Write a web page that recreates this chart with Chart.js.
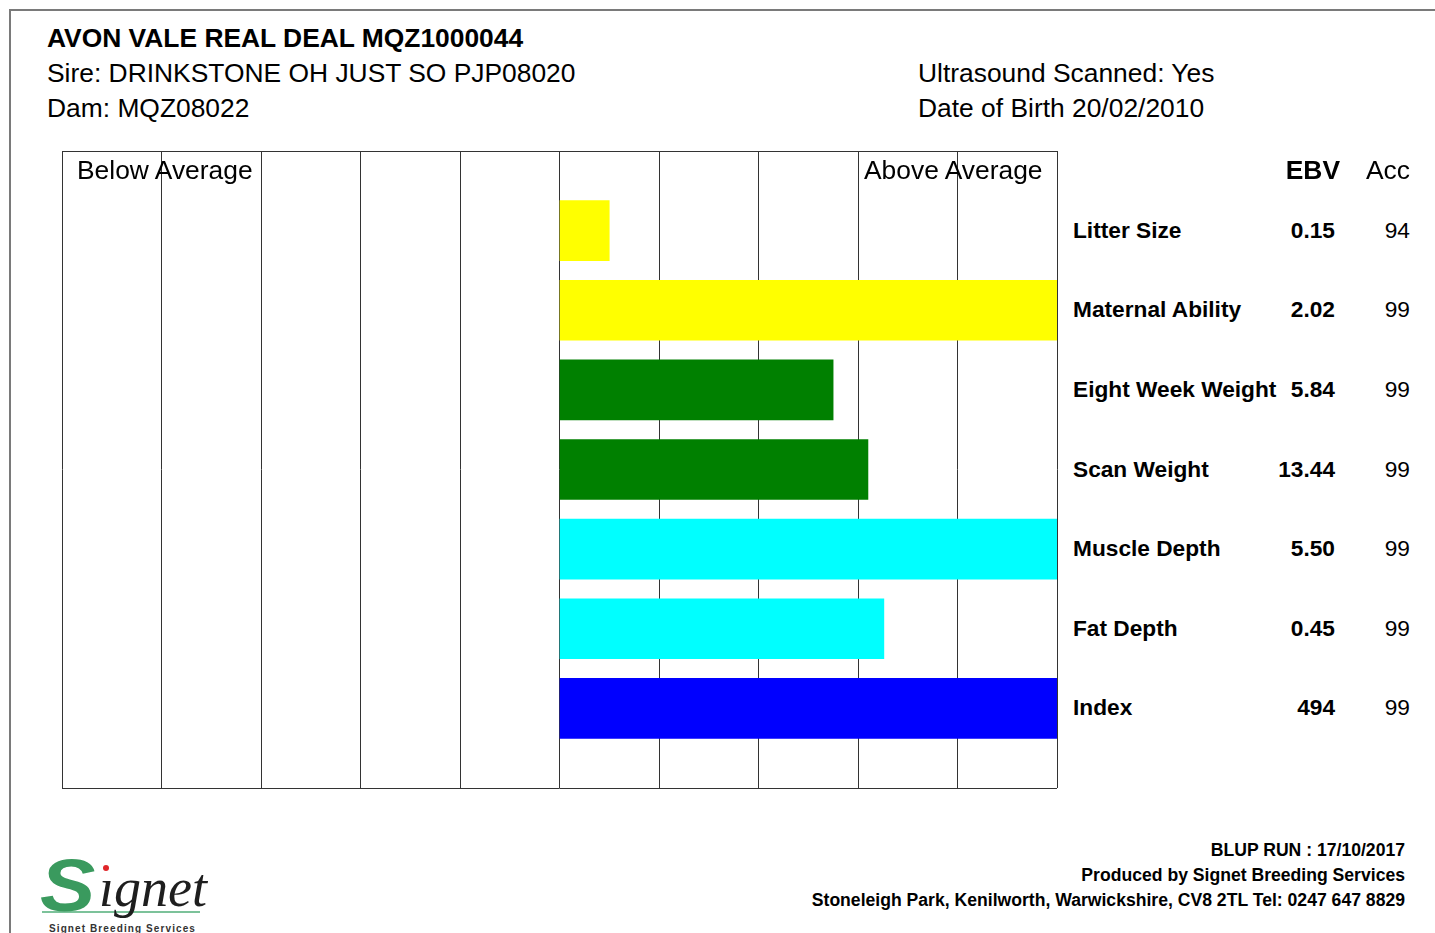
<!DOCTYPE html>
<html><head><meta charset="utf-8">
<script src="https://cdn.jsdelivr.net/npm/chart.js@4/dist/chart.umd.min.js"></script>
<style>
html,body{margin:0;padding:0;background:#fff;width:1435px;height:933px;overflow:hidden;font-family:'Liberation Sans',Arial,Helvetica,sans-serif;color:#000}
.abs{position:absolute;white-space:nowrap}
#frame{position:absolute;left:9px;top:9px;width:1440px;height:940px;border-top:2px solid #7a7a7a;border-left:2px solid #7a7a7a}
.h{font-size:26.4px;line-height:30px;height:30px}
.b{font-weight:bold}
.row{font-size:22.7px;line-height:30px;height:30px}
.foot{font-size:17.6px;font-weight:bold;line-height:20px;height:20px;right:30px;text-align:right}
#chartBox{position:absolute;left:52px;top:141px;width:1015px;height:657px}
</style>
</head><body>
<div id="frame"></div>
<div class="abs h b" style="left:47px;top:23px">AVON VALE REAL DEAL MQZ1000044</div>
<div class="abs h" style="left:47px;top:58px">Sire: DRINKSTONE OH JUST SO PJP08020</div>
<div class="abs h" style="left:47px;top:93px">Dam: MQZ08022</div>
<div class="abs h" style="left:918px;top:58px">Ultrasound Scanned: Yes</div>
<div class="abs h" style="left:918px;top:93px">Date of Birth 20/02/2010</div>

<div id="chartBox"><canvas id="c"></canvas></div>

<div class="abs h" style="left:77px;top:155px">Below Average</div>
<div class="abs h" style="left:864px;top:155px">Above Average</div>
<div class="abs h b" style="right:95px;top:155px">EBV</div>
<div class="abs h" style="right:25px;top:155px">Acc</div>
<div id="rows"></div>

<div class="abs foot" style="top:840px">BLUP RUN : 17/10/2017</div>
<div class="abs foot" style="top:865px">Produced by Signet Breeding Services</div>
<div class="abs foot" style="top:890px">Stoneleigh Park, Kenilworth, Warwickshire, CV8 2TL Tel: 0247 647 8829</div>

<div class="abs" style="left:42px;top:911px;width:158px;height:2px;background:#7cc29a"></div>
<div class="abs" style="left:40px;top:849px;font-family:'Liberation Sans',sans-serif;font-style:italic;font-weight:bold;font-size:74px;line-height:74px;color:#3a9a5e;transform:scaleX(1.12);transform-origin:left center">S</div>
<div class="abs" style="left:99px;top:858px;font-family:'Liberation Serif',serif;font-style:italic;font-size:54px;line-height:60px;color:#1e1e1e">ıgnet</div>
<div class="abs" style="left:103px;top:865px;width:6px;height:6px;border-radius:3px;background:#e0262a"></div>
<div class="abs" style="left:49px;top:922px;font-size:10px;font-weight:bold;line-height:14px;color:#333;letter-spacing:1.1px">Signet Breeding Services</div>

<script>
const traits = ['Litter Size','Maternal Ability','Eight Week Weight','Scan Weight','Muscle Depth','Fat Depth','Index'];
const ebvText = ['0.15','2.02','5.84','13.44','5.50','0.45','494'];
const accValues = [94,99,99,99,99,99,99];
const barValues = [0.5, 5, 2.75, 3.1, 5, 3.26, 5];
const barColors = ['#FFFF00','#FFFF00','#008000','#008000','#00FFFF','#00FFFF','#0000FF'];
const axisMin = -5, axisMax = 5;

const labels = [''].concat(traits, ['']);
const chart = new Chart(document.getElementById('c'), {
  type: 'bar',
  data: {
    labels: labels,
    datasets: [{
      data: [null].concat(barValues, [null]),
      backgroundColor: ['rgba(0,0,0,0)'].concat(barColors, ['rgba(0,0,0,0)']),
      borderWidth: 0,
      barThickness: 60
    }]
  },
  options: {
    indexAxis: 'y',
    responsive: true,
    maintainAspectRatio: false,
    animation: false,
    layout: { padding: 10 },
    plugins: { legend: { display: false }, tooltip: { enabled: false } },
    scales: {
      x: {
        type: 'linear', min: axisMin, max: axisMax,
        ticks: { display: false, stepSize: 1 },
        grid: { color: '#333', lineWidth: 1, drawTicks: false },
        border: { display: false }
      },
      y: {
        type: 'category', offset: false,
        ticks: { display: false },
        grid: { offset: false, drawTicks: false, lineWidth: 1,
          color: c => (c.index === 0 || c.index === labels.length - 1) ? '#333' : 'rgba(0,0,0,0)' },
        border: { display: false }
      }
    }
  }
});

const rows = document.getElementById('rows');
const topOff = 141;
traits.forEach((t, i) => {
  const y = chart.scales.y.getPixelForValue(i + 1) + topOff;
  const mk = (txt, style, cls) => {
    const d = document.createElement('div');
    d.className = 'abs row ' + (cls || '');
    d.textContent = txt;
    d.style.cssText = style + ';top:' + (y - 16) + 'px';
    rows.appendChild(d);
  };
  mk(t, 'left:1073px', 'b');
  mk(ebvText[i], 'right:100px', 'b');
  mk(String(accValues[i]), 'right:25px', '');
});
</script>
</body></html>
